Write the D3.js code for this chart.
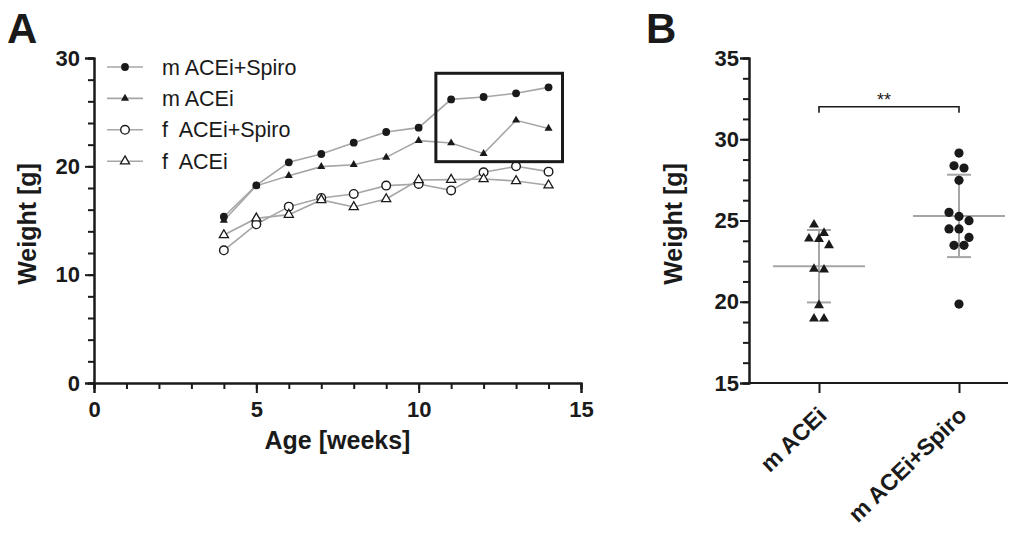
<!DOCTYPE html>
<html>
<head>
<meta charset="utf-8">
<script src="https://cdn.jsdelivr.net/npm/d3@7"></script>
<style>
  body { margin: 0; background: #fff; }
  svg { font-family: "Liberation Sans", Arial, sans-serif; }
</style>
</head>
<body>
<svg id="fig" width="1019" height="533"></svg>
<script>
// ---------------------- data ---------------------------
// panel A : mean weight per age
const weeks = [4, 5, 6, 7, 8, 9, 10, 11, 12, 13, 14];
const mSpiro = [15.35, 18.25, 20.37, 21.14, 22.18, 23.17, 23.57, 26.18, 26.40, 26.74, 27.29];
const mAcei  = [15.0, 18.2, 19.14, 19.97, 20.15, 20.83, 22.37, 22.15, 21.17, 24.25, 23.5];
const fSpiro = [12.25, 14.65, 16.28, 17.08, 17.45, 18.22, 18.37, 17.78, 19.45, 20.0, 19.51];
const fAcei  = [13.66, 15.2, 15.54, 16.9, 16.25, 16.98, 18.74, 18.77, 18.83, 18.65, 18.25];
const seriesNames = ["m ACEi+Spiro", "m ACEi", "f  ACEi+Spiro", "f  ACEi"];
const xTicksA = [0, 5, 10, 15];
const yTicksA = [0, 10, 20, 30];
// highlighted region (weeks / weight)
const boxWeeks = [10.53, 14.43];
const boxWeight = [20.43, 28.59];

// panel B : individual weights at end of study
const groupNames = ["m ACEi", "m ACEi+Spiro"];
const groupAcei  = [24.74, 24.23, 23.86, 23.88, 23.47, 21.97, 22.02, 19.78, 18.96, 18.96];
const groupSpiro = [29.15, 28.37, 28.23, 27.47, 25.5, 24.99, 25.25, 24.48, 24.48, 23.96, 23.47, 23.47, 19.86];
const yTicksB = [15, 20, 25, 30, 35];
const sigLevel = 32;
const sigLabel = "**";

// ---------------------- setup ---------------------------
const svg = d3.select("#fig");
const lineGray = "#a6a6a6";
const ink = "#1a1a1a";

const triSmall = d3.symbol(d3.symbolTriangle, 28)();
const triOpen = d3.symbol(d3.symbolTriangle, 36)();
const triB = d3.symbol(d3.symbolTriangle, 43)();

const series = [
  { name: seriesNames[0], values: mSpiro, shape: "circle", r: 3.9, fill: ink, stroke: "none" },
  { name: seriesNames[1], values: mAcei, shape: "tri", path: triSmall, fill: ink, stroke: "none" },
  { name: seriesNames[2], values: fSpiro, shape: "circle", r: 4.3, fill: "#fff", stroke: ink },
  { name: seriesNames[3], values: fAcei, shape: "tri", path: triOpen, fill: "#fff", stroke: ink }
];

function drawMarker(g, s, x, y) {
  if (s.shape === "circle") {
    g.append("circle").attr("cx", x).attr("cy", y).attr("r", s.r)
      .attr("fill", s.fill).attr("stroke", s.stroke).attr("stroke-width", 1.4);
  } else {
    g.append("path").attr("d", s.path).attr("transform", `translate(${x},${y})`)
      .attr("fill", s.fill).attr("stroke", s.stroke).attr("stroke-width", 1.3);
  }
}

function styleAxis(g, size) {
  g.selectAll(".domain").attr("stroke", ink).attr("stroke-width", 2);
  g.selectAll(".tick line").attr("stroke", ink).attr("stroke-width", 2);
  g.selectAll("text").attr("font-size", size).attr("font-weight", "bold").attr("fill", ink);
}

// ---------------------- panel A ---------------------------
const xA = d3.scaleLinear().domain([0, 15]).range([94, 581]);
const yA = d3.scaleLinear().domain([0, 30]).range([383, 58]);

// minor ticks
svg.append("g").attr("transform", "translate(0,383)")
  .call(d3.axisBottom(xA).tickValues(d3.range(0, 16)).tickSize(6).tickFormat(""))
  .call(g => styleAxis(g, 0));
svg.append("g").attr("transform", "translate(94,0)")
  .call(d3.axisLeft(yA).tickValues(d3.range(0, 31, 2)).tickSize(6).tickFormat(""))
  .call(g => styleAxis(g, 0));
// major ticks
svg.append("g").attr("transform", "translate(0,383)")
  .call(d3.axisBottom(xA).tickValues(xTicksA).tickSize(10).tickPadding(8))
  .call(g => styleAxis(g, 22));
svg.append("g").attr("transform", "translate(94,0)")
  .call(d3.axisLeft(yA).tickValues(yTicksA).tickSize(9).tickPadding(5))
  .call(g => styleAxis(g, 22));

svg.append("text").attr("x", (xA(0) + xA(15)) / 2 + 0).attr("y", 449)
  .attr("text-anchor", "middle").attr("font-size", 25).attr("font-weight", "bold")
  .attr("fill", ink).text("Age [weeks]");
svg.append("text").attr("transform", "translate(36,224) rotate(-90)")
  .attr("text-anchor", "middle").attr("font-size", 25).attr("font-weight", "bold")
  .attr("fill", ink).text("Weight [g]");
svg.append("text").attr("x", 7).attr("y", 43).attr("font-size", 42)
  .attr("font-weight", "bold").attr("fill", ink).text("A");

const line = d3.line().x((d, i) => xA(weeks[i])).y(d => yA(d));
const linesG = svg.append("g");
series.forEach(s => {
  linesG.append("path").attr("d", line(s.values)).attr("fill", "none")
    .attr("stroke", lineGray).attr("stroke-width", 1.6);
});
const marksG = svg.append("g");
series.forEach(s => {
  s.values.forEach((v, i) => drawMarker(marksG, s, xA(weeks[i]), yA(v)));
});

// highlight box
svg.append("rect")
  .attr("x", xA(boxWeeks[0])).attr("y", yA(boxWeight[1]))
  .attr("width", xA(boxWeeks[1]) - xA(boxWeeks[0]))
  .attr("height", yA(boxWeight[0]) - yA(boxWeight[1]))
  .attr("fill", "none").attr("stroke", ink).attr("stroke-width", 3);

// legend
const legend = svg.append("g");
series.forEach((s, i) => {
  const y = 67 + i * 31.4;
  legend.append("line").attr("x1", 107).attr("x2", 143).attr("y1", y).attr("y2", y)
    .attr("stroke", lineGray).attr("stroke-width", 1.6);
  drawMarker(legend, s, 125, y);
  legend.append("text").attr("x", 162).attr("y", y + 7.5).attr("font-size", 21.5)
    .attr("fill", ink).attr("xml:space", "preserve").style("white-space", "pre").text(s.name);
});

// ---------------------- panel B ---------------------------
const xB = d3.scalePoint().domain(groupNames).range([819, 959]);
const yB = d3.scaleLinear().domain([15, 35]).range([383, 58]);

svg.append("g").attr("transform", "translate(749,0)")
  .call(d3.axisLeft(yB).tickValues(d3.range(15, 35.01, 1.25)).tickSize(6).tickFormat(""))
  .call(g => styleAxis(g, 0));
svg.append("g").attr("transform", "translate(749,0)")
  .call(d3.axisLeft(yB).tickValues(yTicksB).tickSize(9).tickPadding(1))
  .call(g => styleAxis(g, 22));
const xAxisB = svg.append("g").attr("transform", "translate(0,383)")
  .call(d3.axisBottom(xB).tickSize(10).tickFormat(""))
  .call(g => styleAxis(g, 0));
xAxisB.select(".domain").remove();
svg.append("line").attr("x1", 748).attr("x2", 1008).attr("y1", 383).attr("y2", 383)
  .attr("stroke", ink).attr("stroke-width", 2);

groupNames.forEach(name => {
  svg.append("text")
    .attr("transform", `translate(${xB(name) + 9},417) rotate(-44)`)
    .attr("text-anchor", "end").attr("font-size", 23).attr("font-weight", "bold")
    .attr("fill", ink).text(name);
});

svg.append("text").attr("transform", "translate(682,224) rotate(-90)")
  .attr("text-anchor", "middle").attr("font-size", 25).attr("font-weight", "bold")
  .attr("fill", ink).text("Weight [g]");
svg.append("text").attr("x", 646).attr("y", 43).attr("font-size", 42)
  .attr("font-weight", "bold").attr("fill", ink).text("B");

// horizontal spread of points that sit at nearly the same height
function dodge(values, step, gap) {
  const order = d3.range(values.length).sort((a, b) => values[b] - values[a]);
  const off = new Array(values.length).fill(0);
  let row = [];
  const flush = () => {
    row.forEach((k, i) => off[k] = (i - (row.length - 1) / 2) * step);
    row = [];
  };
  order.forEach(k => {
    if (row.length && yB(values[k]) - yB(values[row[0]]) > gap) flush();
    row.push(k);
  });
  flush();
  return off;
}

const groups = [
  { name: groupNames[0], values: groupAcei, shape: "tri" },
  { name: groupNames[1], values: groupSpiro, shape: "circle" }
];

groups.forEach(gr => {
  const cx = xB(gr.name);
  const m = d3.mean(gr.values);
  const sd = d3.deviation(gr.values);
  const g = svg.append("g");
  // mean and SD
  g.append("line").attr("x1", cx).attr("x2", cx).attr("y1", yB(m - sd)).attr("y2", yB(m + sd))
    .attr("stroke", lineGray).attr("stroke-width", 2);
  [m - sd, m + sd].forEach(v => {
    g.append("line").attr("x1", cx - 12).attr("x2", cx + 12).attr("y1", yB(v)).attr("y2", yB(v))
      .attr("stroke", lineGray).attr("stroke-width", 2);
  });
  g.append("line").attr("x1", cx - 46).attr("x2", cx + 46).attr("y1", yB(m)).attr("y2", yB(m))
    .attr("stroke", lineGray).attr("stroke-width", 2);
  // points
  const off = dodge(gr.values, 10, 9);
  gr.values.forEach((v, i) => {
    if (gr.shape === "circle") {
      g.append("circle").attr("cx", cx + off[i]).attr("cy", yB(v)).attr("r", 4.6).attr("fill", ink);
    } else {
      g.append("path").attr("d", triB).attr("transform", `translate(${cx + off[i]},${yB(v)})`)
        .attr("fill", ink);
    }
  });
});

// significance bracket
const by = yB(sigLevel);
svg.append("path")
  .attr("d", `M${xB(groupNames[0])},${by + 6}V${by}H${xB(groupNames[1])}V${by + 6}`)
  .attr("fill", "none").attr("stroke", ink).attr("stroke-width", 1.6);
svg.append("text").attr("x", (xB(groupNames[0]) + xB(groupNames[1])) / 2 - 5).attr("y", by - 1)
  .attr("text-anchor", "middle").attr("font-size", 18).attr("fill", ink).text(sigLabel);
</script>
</body>
</html>
